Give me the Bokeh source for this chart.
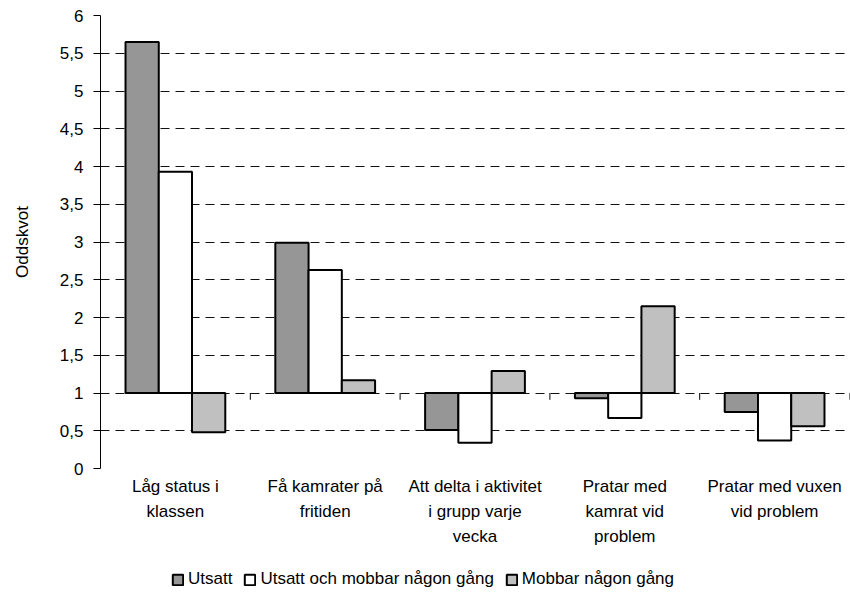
from bokeh.plotting import figure
from bokeh.layouts import column
from bokeh.models import FactorRange, FixedTicker, CustomJSTickFormatter, Range1d, ColumnDataSource
from bokeh.transform import dodge
from bokeh.embed import file_html
from bokeh.resources import INLINE

categories = ["Låg status i\nklassen", "Få kamrater på\nfritiden", "Att delta i aktivitet\ni grupp varje\nvecka",
              "Pratar med\nkamrat vid\nproblem", "Pratar med vuxen\nvid problem"]
series_names = ["Utsatt", "Utsatt och mobbar någon gång", "Mobbar någon gång"]
utsatt = [5.65, 2.99, 0.51, 0.93, 0.75]
utsatt_mobbar = [3.93, 2.63, 0.34, 0.67, 0.37]
mobbar = [0.48, 1.17, 1.29, 2.15, 0.56]
baseline = 1.0
y_ticks = [0, 0.5, 1, 1.5, 2, 2.5, 3, 3.5, 4, 4.5, 5, 5.5, 6]

FONT = "Liberation Sans"
FS = "17px"
colors = ["#969696", "#ffffff", "#c0c0c0"]

src = ColumnDataSource(dict(cat=categories, a=utsatt, b=utsatt_mobbar, c=mobbar,
                            base=[baseline] * len(categories)))

p = figure(frame_width=749, frame_height=453, x_range=FactorRange(*categories), y_range=(0, 6),
           output_backend="svg", toolbar_location=None,
           min_border_left=100, min_border_right=1, min_border_top=15, min_border_bottom=0)
p.outline_line_color = None

bw = 0.222
for k, (col, colr) in enumerate(zip(["a", "b", "c"], colors)):
    p.vbar(x=dodge("cat", (k - 1) * bw, range=p.x_range), width=bw, bottom="base", top=col,
           source=src, fill_color=colr, line_color="black", line_width=2)

# category separator ticks on the baseline
sep_x = [i + 1 for i in range(len(categories))]
p.segment(x0=sep_x, x1=sep_x, y0=[baseline] * len(sep_x), y1=[baseline - 0.09] * len(sep_x),
          line_color="black", line_width=1)

p.xgrid.grid_line_color = None
p.ygrid.ticker = FixedTicker(ticks=y_ticks)
p.ygrid.grid_line_color = "#111111"
p.ygrid.grid_line_dash = "9 6"
p.ygrid.grid_line_width = 1

yax = p.yaxis[0]
yax.ticker = FixedTicker(ticks=y_ticks)
yax.formatter = CustomJSTickFormatter(code="return tick.toString().replace('.', ',');")
yax.axis_label = "Oddskvot"
yax.axis_label_text_font = FONT
yax.axis_label_text_font_size = FS
yax.axis_label_text_font_style = "normal"
yax.axis_label_text_color = "black"
yax.axis_label_standoff = 25
yax.major_label_text_font = FONT
yax.major_label_text_font_size = FS
yax.major_label_text_color = "black"
yax.major_tick_out = 7
yax.major_tick_in = 0
yax.minor_tick_out = 0
yax.minor_tick_in = 0
yax.axis_line_color = "black"
yax.major_tick_line_color = "black"
yax.major_label_standoff = 10

xax = p.xaxis[0]
xax.axis_line_color = None
xax.major_tick_line_color = None
xax.major_tick_out = 0
xax.major_tick_in = 0
xax.major_label_text_font = FONT
xax.major_label_text_font_size = FS
xax.major_label_text_color = "black"
xax.major_label_text_line_height = 1.34
xax.major_label_standoff = 8
xax.major_label_orientation = "horizontal"

# legend panel below the chart
lf = figure(width=850, height=40, x_range=Range1d(0, 1), y_range=Range1d(0, 1),
            output_backend="svg", toolbar_location=None,
            x_axis_location=None, y_axis_location=None,
            min_border_left=0, min_border_right=0, min_border_top=0, min_border_bottom=0)
lf.grid.grid_line_color = None
lf.outline_line_color = None
for name, colr in zip(series_names, colors):
    r = lf.vbar(x=[0.5], top=[0.5], width=0.1, fill_color=colr, line_color="black", line_width=2,
                legend_label=name)
    r.visible = False
lg = lf.legend[0]
lg.orientation = "horizontal"
lg.location = (71, 0)
lg.border_line_color = None
lg.background_fill_alpha = 0
lg.label_text_font = FONT
lg.label_text_font_size = FS
lg.label_text_color = "black"
lg.glyph_width = 13
lg.glyph_height = 13
lg.label_standoff = 4
lg.spacing = 11
lg.padding = 0
lg.margin = 0
lg.label_height = 20

layout = column(p, lf, spacing=0)
open("out.html", "w").write(file_html(layout, INLINE))
